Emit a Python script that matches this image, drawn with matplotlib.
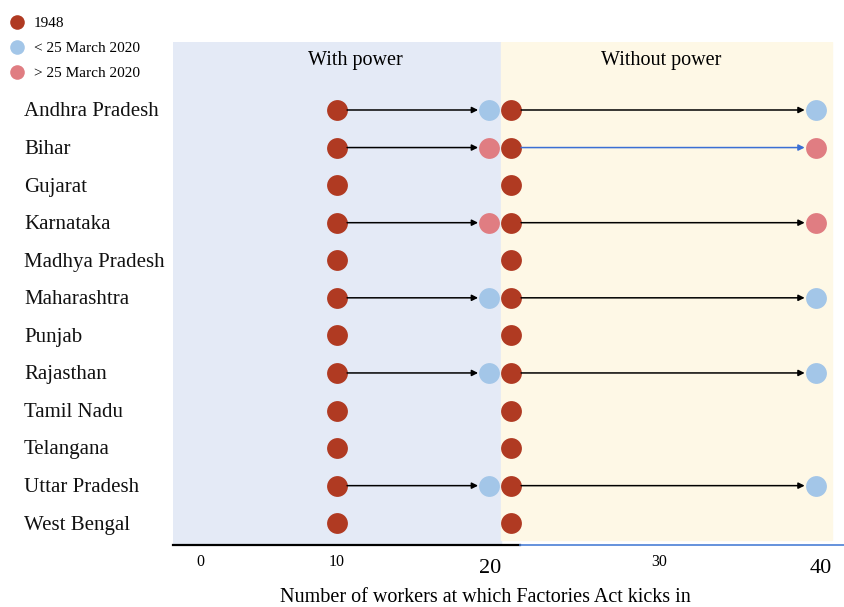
import matplotlib
matplotlib.use('Agg')
from matplotlib import pyplot as plt
from matplotlib.lines import Line2D

states = ['Andhra Pradesh', 'Bihar', 'Gujarat', 'Karnataka', 'Madhya Pradesh',
          'Maharashtra', 'Punjab', 'Rajasthan', 'Tamil Nadu', 'Telangana',
          'Uttar Pradesh', 'West Bengal']
with_power_1948 = [10] * 12
with_power_2020 = [20, 20, None, 20, None, 20, None, 20, None, None, 20, None]
without_power_1948 = [20] * 12
without_power_2020 = [40, 40, None, 40, None, 40, None, 40, None, None, 40, None]
after_25_march = [False, True, False, True, False, False, False, False, False, False, False, False]

tick_values = [0, 10, 20, 30, 40]
tick_labels = ['0', '10', '20', '30', '40']

RED = '#b03a22'
BLUE = '#a3c6e8'
PINK = '#e07d82'
SERIF = 'Liberation Serif'

fig = plt.figure(figsize=(8.45, 6.07), dpi=100)
ax = fig.add_axes([173 / 845, 1 - 545 / 607, 672 / 845, 503 / 607])
ax.set_xlim(-0.25, 41.83)
ax.set_ylim(11.58, -1.81)
for s in ax.spines.values():
    s.set_visible(False)
ax.set_yticks([])

ax.axvspan(-0.25, 20.29, color='#e4eaf6', zorder=0)
ax.axvspan(20.29, 41.01, ymin=0.01, color='#fef8e6', zorder=0)

# the two columns sitting at 20 are nudged apart so both stay visible
nudge_left, nudge_right = 0.45, 0.9


def xpos(v, side):
    if v != 20:
        return v
    return v - nudge_left if side == 'with' else v + nudge_right


r = 7.5
for i, st in enumerate(states):
    new_col = PINK if after_25_march[i] else BLUE
    x0 = xpos(with_power_1948[i], 'with')
    ax.scatter(x0, i, s=225, color=RED, zorder=3, lw=0)
    x1 = xpos(without_power_1948[i], 'without')
    ax.scatter(x1, i, s=225, color=RED, zorder=3, lw=0)
    if with_power_2020[i] is not None:
        xn = xpos(with_power_2020[i], 'with')
        ax.scatter(xn, i, s=225, color=new_col, zorder=3, lw=0)
        ax.annotate('', xy=(xn, i), xytext=(x0, i),
                    arrowprops=dict(arrowstyle='-|>', color='black', lw=1.1,
                                    mutation_scale=9, shrinkA=r, shrinkB=r + 0.5))
    if without_power_2020[i] is not None:
        xn = xpos(without_power_2020[i], 'without')
        ax.scatter(xn, i, s=225, color=new_col, zorder=3, lw=0)
        acol = '#3b6fd4' if st == 'Bihar' else 'black'
        ax.annotate('', xy=(xn, i), xytext=(x1, i),
                    arrowprops=dict(arrowstyle='-|>', color=acol, lw=1.1,
                                    mutation_scale=9, shrinkA=r, shrinkB=r + 0.5))
    fig.text(24 / 845, 1 - (112 + 37.55 * i) / 607, st, family=SERIF,
             fontsize=15, va='center', ha='left', color='#111111')

ax.text(11.2, -1.33, 'With power', family=SERIF, fontsize=14.5, ha='center', va='center')
ax.text(30.3, -1.33, 'Without power', family=SERIF, fontsize=14.5, ha='center', va='center')

# axis line: black then blue
ax.plot([-0.25, 21.5], [11.58, 11.58], color='black', lw=1.6, clip_on=False, zorder=4)
ax.plot([21.5, 41.83], [11.58, 11.58], color='#4a7fd6', lw=1.2, clip_on=False, zorder=4)

# tick labels as drawn (0, 10 and 30 small; 20 and 40 larger)
tick_shift = [1.45, 0, -0.4, 0.2, 0.3]
ax.set_xticks([])
for v, lab, dx in zip(tick_values, tick_labels, tick_shift):
    big = v in (20, 40)
    ax.text(v + dx, 11.58 + (0.62 if big else 0.45), lab, family=SERIF,
            fontsize=16 if big else 11.5, ha='center', va='center')

fig.text(485 / 845, 1 - 598 / 607, 'Number of workers at which Factories Act kicks in',
         family=SERIF, fontsize=14.5, ha='center', va='center')

handles = [Line2D([], [], marker='o', ls='', color=c, markersize=10.5, markeredgewidth=0)
           for c in (RED, BLUE, PINK)]
fig.legend(handles, ['1948', '< 25 March 2020', '> 25 March 2020'],
           loc='upper left', bbox_to_anchor=(-0.007, 0.993), frameon=False,
           prop={'family': SERIF, 'size': 11}, handletextpad=0.4,
           labelspacing=0.75, borderaxespad=0.4, handlelength=1.4)

fig.savefig('out.png', dpi=100)
